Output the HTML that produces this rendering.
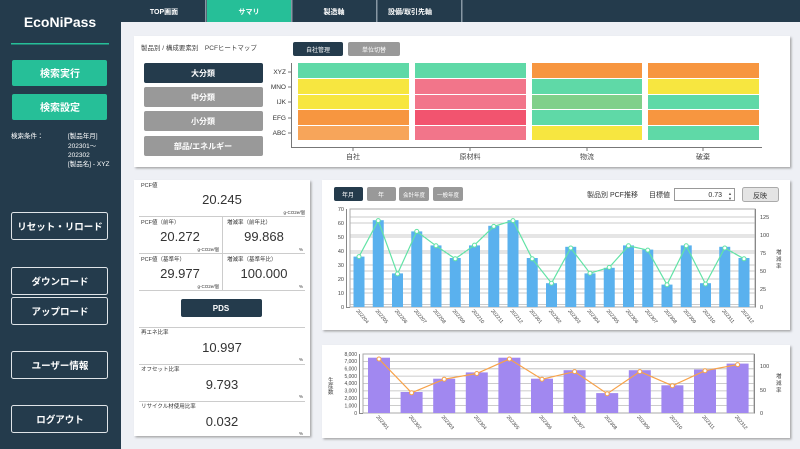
<!DOCTYPE html>
<html><head><meta charset="utf-8"><style>
body{margin:0;width:800px;height:449px;overflow:hidden;background:#eef0f5;font-family:"Liberation Sans","Noto Sans CJK JP",sans-serif}
svg{display:block}
</style></head><body>
<svg width="800" height="449" viewBox="0 0 800 449" xmlns="http://www.w3.org/2000/svg" font-family="Liberation Sans, Noto Sans CJK JP, sans-serif">
<defs><filter id="sh" x="-5%" y="-5%" width="110%" height="115%"><feDropShadow dx="1.5" dy="1.5" stdDeviation="1" flood-color="#888" flood-opacity="0.7"/></filter></defs>
<rect width="800" height="449" fill="#eef0f5"/>
<!-- sidebar -->
<rect x="0" y="0" width="121" height="449" fill="#243b4c"/>
<text x="60" y="27" fill="#fff" font-size="14" font-weight="bold" text-anchor="middle">EcoNiPass</text>
<rect x="11" y="43" width="98" height="1.5" fill="#26bf98"/>
<rect x="12" y="60" width="95" height="26" rx="2" fill="#26bf98"/>
<text x="60" y="77" fill="#fff" font-size="10" font-weight="bold" text-anchor="middle">検索実行</text>
<rect x="12" y="94" width="95" height="26" rx="2" fill="#26bf98"/>
<text x="60" y="111" fill="#fff" font-size="10" font-weight="bold" text-anchor="middle">検索設定</text>
<g fill="#fff" font-size="6.5"><text x="11" y="138">検索条件：</text><text x="68" y="138">[製品年月]</text><text x="68" y="148">202301～</text><text x="68" y="157">202302</text><text x="68" y="166">[製品名] - XYZ</text></g>
<g fill="none" stroke="#dfe4e8" stroke-width="1"><rect x="11.5" y="212.5" width="96" height="27" rx="2"/><rect x="11.5" y="267.5" width="96" height="27" rx="2"/><rect x="11.5" y="297.5" width="96" height="27" rx="2"/><rect x="11.5" y="351.5" width="96" height="27" rx="2"/><rect x="11.5" y="405.5" width="96" height="27" rx="2"/></g>
<g fill="#fff" font-size="9.5" font-weight="bold" text-anchor="middle"><text x="60" y="230">リセット・リロード</text><text x="60" y="285">ダウンロード</text><text x="60" y="315">アップロード</text><text x="60" y="369">ユーザー情報</text><text x="60" y="423">ログアウト</text></g>
<!-- tabs -->
<rect x="121" y="0" width="679" height="22" fill="#243b4c"/>
<rect x="207" y="0" width="84" height="22" fill="#26bf98"/>
<g fill="#8797a3"><rect x="205" y="0" width="1.5" height="22"/><rect x="291" y="0" width="1.5" height="22"/><rect x="376" y="0" width="1.5" height="22"/><rect x="461" y="0" width="1.5" height="22"/></g>
<g fill="#fff" font-size="7" font-weight="bold" text-anchor="middle"><text x="164" y="14">TOP画面</text><text x="249" y="14">サマリ</text><text x="334" y="14">製造軸</text><text x="410" y="14">設備/取引先軸</text></g>
<!-- panel 1 -->
<rect x="134" y="36" width="656" height="131" fill="#fff" filter="url(#sh)"/>
<text x="141" y="50" font-size="6.5" fill="#444">製品別 / 構成要素別　PCFヒートマップ</text>
<rect x="293" y="42" width="50" height="14" rx="2" fill="#243b4c"/><text x="318" y="52" font-size="6" fill="#fff" text-anchor="middle">自社管理</text>
<rect x="348" y="42" width="52" height="14" rx="2" fill="#999"/><text x="374" y="52" font-size="6" fill="#fff" text-anchor="middle">単位切替</text>
<rect x="144" y="63" width="119" height="20" rx="2" fill="#243b4c"/>
<rect x="144" y="87" width="119" height="20" rx="2" fill="#999"/>
<rect x="144" y="111" width="119" height="20" rx="2" fill="#999"/>
<rect x="144" y="136" width="119" height="20" rx="2" fill="#999"/>
<g fill="#fff" font-size="8" font-weight="bold" text-anchor="middle"><text x="203" y="76">大分類</text><text x="203" y="100">中分類</text><text x="203" y="124">小分類</text><text x="203" y="149">部品/エネルギー</text></g>
<g stroke="#777" fill="none"><path d="M291.5 63V147.5H762"/></g>
<g fill="#333" font-size="6.5" text-anchor="end"><text x="286" y="74">XYZ</text><text x="286" y="89">MNO</text><text x="286" y="104">IJK</text><text x="286" y="120">EFG</text><text x="286" y="135">ABC</text></g>
<g stroke="#777"><path d="M288 72h3M288 87h3M288 102h3M288 118h3M288 133h3M353 148v3M470 148v3M587 148v3M703 148v3"/></g>
<g fill="#444" font-size="7" text-anchor="middle"><text x="353" y="159">自社</text><text x="470" y="159">原材料</text><text x="587" y="159">物流</text><text x="703" y="159">破棄</text></g>
<g>
<rect x="298" y="63" width="111" height="15" fill="#5fd9a7"/><rect x="298" y="79" width="111" height="15" fill="#f7e640"/><rect x="298" y="95" width="111" height="14" fill="#f7e640"/><rect x="298" y="110" width="111" height="15" fill="#f79640"/><rect x="298" y="126" width="111" height="14" fill="#f7a55a"/>
<rect x="415" y="63" width="111" height="15" fill="#5fd9a7"/><rect x="415" y="79" width="111" height="15" fill="#f2758a"/><rect x="415" y="95" width="111" height="14" fill="#f2758a"/><rect x="415" y="110" width="111" height="15" fill="#f2546f"/><rect x="415" y="126" width="111" height="14" fill="#f2758a"/>
<rect x="532" y="63" width="110" height="15" fill="#f79640"/><rect x="532" y="79" width="110" height="15" fill="#5fd9a7"/><rect x="532" y="95" width="110" height="14" fill="#80d08a"/><rect x="532" y="110" width="110" height="15" fill="#5fd9a7"/><rect x="532" y="126" width="110" height="14" fill="#f7e640"/>
<rect x="648" y="63" width="111" height="15" fill="#f79640"/><rect x="648" y="79" width="111" height="15" fill="#f7e640"/><rect x="648" y="95" width="111" height="14" fill="#5fd9a7"/><rect x="648" y="110" width="111" height="15" fill="#f79640"/><rect x="648" y="126" width="111" height="14" fill="#5fd9a7"/>
</g>
<!-- panel 2 -->
<rect x="134" y="180" width="176" height="256" fill="#fff" filter="url(#sh)"/>
<g stroke="#ccc"><path d="M139 216.5h166M139 253.5h166M139 290.5h166M222.5 217v73M139 327.5h166M139 364.5h166M139 401.5h166"/></g>
<g fill="#333" font-size="5.5"><text x="141" y="187">PCF値</text><text x="141" y="224">PCF値（前年）</text><text x="227" y="224">増減率（前年比）</text><text x="141" y="261">PCF値（基準年）</text><text x="227" y="261">増減率（基準年比）</text><text x="141" y="334">再エネ比率</text><text x="141" y="371">オフセット比率</text><text x="141" y="408">リサイクル材使用比率</text></g>
<g fill="#333" font-size="4.5" text-anchor="end"><text x="305" y="214">g-CO2e/個</text><text x="219" y="251">g-CO2e/個</text><text x="303" y="251">%</text><text x="219" y="288">g-CO2e/個</text><text x="303" y="288">%</text><text x="303" y="361">%</text><text x="303" y="398">%</text><text x="303" y="435">%</text></g>
<g fill="#333" font-size="13" text-anchor="middle"><text x="222" y="204">20.245</text><text x="180" y="241">20.272</text><text x="264" y="241">99.868</text><text x="180" y="278">29.977</text><text x="264" y="278">100.000</text><text x="222" y="352">10.997</text><text x="222" y="389">9.793</text><text x="222" y="426">0.032</text></g>
<rect x="181" y="299" width="81" height="18" rx="2" fill="#243b4c"/><text x="221" y="311" fill="#fff" font-size="8" font-weight="bold" text-anchor="middle">PDS</text>
<!-- panel 3 -->
<rect x="322" y="180" width="468" height="150" fill="#fff" filter="url(#sh)"/>
<rect x="334" y="187" width="29" height="14" rx="2" fill="#243b4c"/><text x="348" y="197" font-size="6" fill="#fff" text-anchor="middle">年月</text>
<rect x="367" y="187" width="29" height="14" rx="2" fill="#999"/><text x="381" y="197" font-size="6" fill="#fff" text-anchor="middle">年</text>
<rect x="399" y="187" width="30" height="14" rx="2" fill="#999"/><text x="414" y="197" font-size="5.5" fill="#fff" text-anchor="middle">会計年度</text>
<rect x="433" y="187" width="30" height="14" rx="2" fill="#999"/><text x="448" y="197" font-size="5.5" fill="#fff" text-anchor="middle">一般年度</text>
<text x="587" y="197" font-size="7" fill="#333">製品別 PCF推移</text><text x="649" y="197" font-size="7" fill="#333">目標値</text>
<rect x="674.5" y="188.5" width="60" height="12" fill="#fff" stroke="#999"/><text x="722" y="197" font-size="7" fill="#333" text-anchor="end">0.73</text><text x="730" y="195" font-size="4" fill="#555" text-anchor="middle">▲</text><text x="730" y="200" font-size="4" fill="#555" text-anchor="middle">▼</text>
<rect x="742.5" y="187.5" width="36" height="14" rx="2" fill="#e4e4e4" stroke="#aaa"/><text x="760" y="198" font-size="7" fill="#333" text-anchor="middle">反映</text>
<g stroke="#bbb" stroke-width="0.8"><path d="M350 293h405M350 279h405M350 265h405M350 251h405M350 237h405M350 223h405M350 209h405M350 304.5h405M350 289h405M350 271h405M350 253h405M350 235h405M350 217h405"/></g>
<rect x="350" y="209" width="405" height="98" fill="none" stroke="#aaa"/>
<path d="M346.5 209V307.5H350M755.5 209V307.5" stroke="#888" fill="none"/>
<g fill="#444" font-size="5.5" text-anchor="end"><text x="344" y="309">0</text><text x="344" y="295">10</text><text x="344" y="281">20</text><text x="344" y="267">30</text><text x="344" y="253">40</text><text x="344" y="239">50</text><text x="344" y="225">60</text><text x="344" y="211">70</text></g>
<g fill="#444" font-size="5.5"><text x="760" y="309">0</text><text x="760" y="291">25</text><text x="760" y="273">50</text><text x="760" y="255">75</text><text x="760" y="237">100</text><text x="760" y="219">125</text></g>
<g fill="#444" font-size="5.5"><text x="776" y="254">増</text><text x="776" y="261">減</text><text x="776" y="268">率</text></g>
<g fill="#5ab1ee">
<rect x="353.5" y="256.6" width="11" height="50.4"/><rect x="372.75" y="220.2" width="11" height="86.8"/><rect x="392" y="273.4" width="11" height="33.6"/><rect x="411.25" y="231.4" width="11" height="75.6"/><rect x="430.5" y="245.4" width="11" height="61.6"/><rect x="449.75" y="258" width="11" height="49"/><rect x="469" y="245.4" width="11" height="61.6"/><rect x="488.25" y="225.8" width="11" height="81.2"/><rect x="507.5" y="220.2" width="11" height="86.8"/><rect x="526.75" y="258" width="11" height="49"/><rect x="546" y="283.2" width="11" height="23.8"/><rect x="565.25" y="246.8" width="11" height="60.2"/><rect x="584.5" y="273.4" width="11" height="33.6"/><rect x="603.75" y="267.8" width="11" height="39.2"/><rect x="623" y="245.4" width="11" height="61.6"/><rect x="642.25" y="249.6" width="11" height="57.4"/><rect x="661.5" y="284.6" width="11" height="22.4"/><rect x="680.75" y="245.4" width="11" height="61.6"/><rect x="700" y="283.2" width="11" height="23.8"/><rect x="719.25" y="246.8" width="11" height="60.2"/><rect x="738.5" y="258" width="11" height="49"/>
</g>
<polyline fill="none" stroke="#62e3a6" stroke-width="1.2" points="359,256.6 378.25,220.6 397.5,273.9 416.75,231.4 436,245.8 455.25,258.8 474.5,245.1 493.75,226.4 513,220.6 532.25,258.8 551.5,283.2 570.75,248 590,273.2 609.25,267.4 628.5,245.8 647.75,250.1 667,284.7 686.25,245.8 705.5,284 724.75,248 744,258.8"/>
<g fill="#fff" stroke="#62e3a6" stroke-width="1"><circle cx="359" cy="256.6" r="2"/><circle cx="378.25" cy="220.6" r="2"/><circle cx="397.5" cy="273.9" r="2"/><circle cx="416.75" cy="231.4" r="2"/><circle cx="436" cy="245.8" r="2"/><circle cx="455.25" cy="258.8" r="2"/><circle cx="474.5" cy="245.1" r="2"/><circle cx="493.75" cy="226.4" r="2"/><circle cx="513" cy="220.6" r="2"/><circle cx="532.25" cy="258.8" r="2"/><circle cx="551.5" cy="283.2" r="2"/><circle cx="570.75" cy="248" r="2"/><circle cx="590" cy="273.2" r="2"/><circle cx="609.25" cy="267.4" r="2"/><circle cx="628.5" cy="245.8" r="2"/><circle cx="647.75" cy="250.1" r="2"/><circle cx="667" cy="284.7" r="2"/><circle cx="686.25" cy="245.8" r="2"/><circle cx="705.5" cy="284" r="2"/><circle cx="724.75" cy="248" r="2"/><circle cx="744" cy="258.8" r="2"/></g>
<g fill="#444" font-size="5">
<text transform="translate(356,311) rotate(50)">202204</text><text transform="translate(375.25,311) rotate(50)">202205</text><text transform="translate(394.5,311) rotate(50)">202206</text><text transform="translate(413.75,311) rotate(50)">202207</text><text transform="translate(433,311) rotate(50)">202208</text><text transform="translate(452.25,311) rotate(50)">202209</text><text transform="translate(471.5,311) rotate(50)">202210</text><text transform="translate(490.75,311) rotate(50)">202211</text><text transform="translate(510,311) rotate(50)">202212</text><text transform="translate(529.25,311) rotate(50)">202301</text><text transform="translate(548.5,311) rotate(50)">202302</text><text transform="translate(567.75,311) rotate(50)">202303</text><text transform="translate(587,311) rotate(50)">202304</text><text transform="translate(606.25,311) rotate(50)">202305</text><text transform="translate(625.5,311) rotate(50)">202306</text><text transform="translate(644.75,311) rotate(50)">202307</text><text transform="translate(664,311) rotate(50)">202308</text><text transform="translate(683.25,311) rotate(50)">202309</text><text transform="translate(702.5,311) rotate(50)">202310</text><text transform="translate(721.75,311) rotate(50)">202311</text><text transform="translate(741,311) rotate(50)">202312</text>
</g>
<!-- panel 4 -->
<rect x="322" y="345" width="468" height="93" fill="#fff" filter="url(#sh)"/>
<g stroke="#bbb" stroke-width="0.8"><path d="M363 405.6h391M363 398.3h391M363 390.9h391M363 383.5h391M363 376.1h391M363 368.8h391M363 361.4h391M363 354h391"/></g>
<rect x="363" y="354" width="391" height="59" fill="none" stroke="#aaa"/>
<path d="M359.5 354V413.5H363M754.5 354V413.5" stroke="#888" fill="none"/>
<g fill="#444" font-size="5" text-anchor="end"><text x="357" y="415">0</text><text x="357" y="407.5">1,000</text><text x="357" y="400">2,000</text><text x="357" y="392.5">3,000</text><text x="357" y="385">4,000</text><text x="357" y="378">5,000</text><text x="357" y="370.5">6,000</text><text x="357" y="363">7,000</text><text x="357" y="356">8,000</text></g>
<g fill="#444" font-size="5.5"><text x="760" y="415">0</text><text x="760" y="392">50</text><text x="760" y="368">100</text></g>
<g fill="#444" font-size="5.5"><text x="328" y="382">生</text><text x="328" y="388">産</text><text x="328" y="394">数</text><text x="776" y="378">増</text><text x="776" y="385">減</text><text x="776" y="392">率</text></g>
<g fill="#a188f0">
<rect x="368" y="357.7" width="22" height="55.3"/><rect x="400.6" y="392" width="22" height="21"/><rect x="433.2" y="378.7" width="22" height="34.3"/><rect x="465.8" y="372.4" width="22" height="40.6"/><rect x="498.4" y="357.7" width="22" height="55.3"/><rect x="531" y="378.7" width="22" height="34.3"/><rect x="563.6" y="370.2" width="22" height="42.8"/><rect x="596.2" y="393.1" width="22" height="19.9"/><rect x="628.8" y="370.2" width="22" height="42.8"/><rect x="661.4" y="385.3" width="22" height="27.7"/><rect x="694" y="369.5" width="22" height="43.5"/><rect x="726.6" y="363.6" width="22" height="49.4"/>
</g>
<polyline fill="none" stroke="#f7a24a" stroke-width="1.2" points="379,359 411.6,392.8 444.2,379.2 476.8,373.5 509.4,359 542,379.2 574.6,371.6 607.2,393.7 639.8,371.6 672.4,385.7 705,370.7 737.6,364.6"/>
<g fill="#fff" stroke="#f7a24a" stroke-width="1"><circle cx="379" cy="359" r="2"/><circle cx="411.6" cy="392.8" r="2"/><circle cx="444.2" cy="379.2" r="2"/><circle cx="476.8" cy="373.5" r="2"/><circle cx="509.4" cy="359" r="2"/><circle cx="542" cy="379.2" r="2"/><circle cx="574.6" cy="371.6" r="2"/><circle cx="607.2" cy="393.7" r="2"/><circle cx="639.8" cy="371.6" r="2"/><circle cx="672.4" cy="385.7" r="2"/><circle cx="705" cy="370.7" r="2"/><circle cx="737.6" cy="364.6" r="2"/></g>
<g fill="#444" font-size="5">
<text transform="translate(376,417) rotate(50)">202301</text><text transform="translate(408.6,417) rotate(50)">202302</text><text transform="translate(441.2,417) rotate(50)">202303</text><text transform="translate(473.8,417) rotate(50)">202304</text><text transform="translate(506.4,417) rotate(50)">202305</text><text transform="translate(539,417) rotate(50)">202306</text><text transform="translate(571.6,417) rotate(50)">202307</text><text transform="translate(604.2,417) rotate(50)">202308</text><text transform="translate(636.8,417) rotate(50)">202309</text><text transform="translate(669.4,417) rotate(50)">202310</text><text transform="translate(702,417) rotate(50)">202311</text><text transform="translate(734.6,417) rotate(50)">202312</text>
</g>
</svg>
</body></html>
